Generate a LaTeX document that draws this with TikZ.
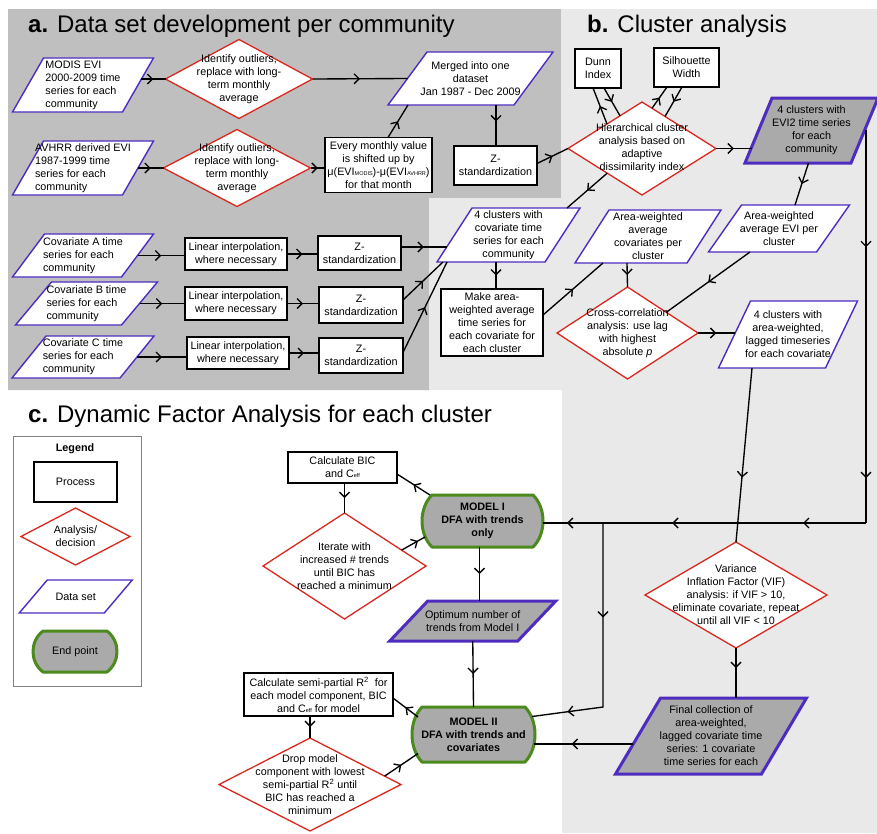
\documentclass[tikz,border=0pt]{standalone}
\usepackage{fontspec}
\setmainfont{Liberation Sans}
\usetikzlibrary{calc,arrows.meta,decorations.markings}
\definecolor{pgray}{RGB}{191,191,191}
\definecolor{lgray}{RGB}{233,233,233}
\definecolor{dpurple}{RGB}{78,44,192}
\definecolor{dred}{RGB}{218,40,30}
\definecolor{dgreen}{RGB}{76,138,30}
\definecolor{sgray}{RGB}{170,170,170}
\definecolor{lborder}{RGB}{130,130,130}
\newcommand{\smallsub}[1]{{\fontsize{5.5}{6}\selectfont #1}}
% parallelogram: style, name, center, mid width, height, slant, align, text
\newcommand{\pgram}[8]{%
  \path[#1] ($(#3)+(-#4/2+#6/2,-#5/2)$) -- ($(#3)+(#4/2+#6/2,-#5/2)$) -- ($(#3)+(#4/2-#6/2,#5/2)$) -- ($(#3)+(-#4/2-#6/2,#5/2)$) -- cycle;
  \node[txt, minimum width=#4, minimum height=#5, align=#7] (#2) at (#3) {#8};}
% diamond: style, name, center, width, height, text
\newcommand{\dmd}[6]{%
  \path[#1] ($(#3)+(0,-#5/2)$) -- ($(#3)+(#4/2,0)$) -- ($(#3)+(0,#5/2)$) -- ($(#3)+(-#4/2,0)$) -- cycle;
  \node[txt, minimum width=#4, minimum height=#5] (#2) at (#3) {#6};}
% terminal (end point): style, name, center, width, height, text
\newcommand{\termshape}[6]{%
  \path[#1] ($(#3)+(-#4/2+10,-#5/2)$) -- ($(#3)+(#4/2-10,-#5/2)$) .. controls ($(#3)+(#4/2+3.33,-#5/4)$) and ($(#3)+(#4/2+3.33,#5/4)$) .. ($(#3)+(#4/2-10,#5/2)$) -- ($(#3)+(-#4/2+10,#5/2)$) .. controls ($(#3)+(-#4/2-3.33,#5/4)$) and ($(#3)+(-#4/2-3.33,-#5/4)$) .. ($(#3)+(-#4/2+10,-#5/2)$) -- cycle;
  \node[txt, minimum width=#4, minimum height=#5] (#2) at (#3) {#6};}
\tikzset{
  txt/.style={inner sep=0pt, outer sep=0pt, align=center, font=\fontsize{10.8}{13}\selectfont, text=black},
  procbox/.style={txt, draw=black, line width=1.6pt, fill=white},
  dwhite/.style={draw=dpurple, line width=1.4pt, fill=white},
  dgray/.style={draw=dpurple, line width=3pt, fill=sgray},
  decis/.style={draw=dred, line width=1.3pt, fill=white},
  endst/.style={draw=dgreen, line width=3pt, fill=sgray, line join=round},
  conn/.style={draw=black, line width=1.35pt},
  midarr/.style={postaction={decorate, decoration={markings, mark=at position #1 with {\arrow{Straight Barb[length=5pt,width=10pt]}}}}},
  midarr/.default=0.5,
  title/.style={anchor=base west, inner sep=0pt, font=\fontsize{24}{28}\selectfont}
}
\begin{document}
\begin{tikzpicture}[x=1pt,y=-1pt]
\useasboundingbox (0,0) rectangle (877,833);
\fill[white] (0,0) rectangle (877,833);
% panels
\fill[pgray] (8,9) -- (561,9) -- (561,198) -- (429,198) -- (429,390) -- (8,390) -- cycle;
\fill[lgray] (561,9) -- (877,9) -- (877,833) -- (562,833) -- (562,390) -- (429,390) -- (429,198) -- (561,198) -- cycle;
% titles
\node[title] (ta) at (28,32) {\textbf{a.} Data set development per community};
\node[title] (tb) at (587,32) {\textbf{b.} Cluster analysis};
\node[title] (tc) at (28,422) {\textbf{c.} Dynamic Factor Analysis for each cluster};

% ---------- panel a
\pgram{dwhite}{modis}{83,85}{110}{54}{31}{left}{MODIS EVI\\2000-2009 time\\series for each\\community}
\dmd{decis}{d1}{239,79}{147}{79}{Identify outliers,\\replace with long-\\term monthly\\average}
\pgram{dwhite}{avhrr}{83,168}{110}{54}{31}{left}{AVHRR derived EVI\\1987-1999 time\\series for each\\community}
\dmd{decis}{d2}{237,168}{147}{77}{Identify outliers,\\replace with long-\\term monthly\\average}
\node[procbox, minimum width=107, minimum height=55] (every) at (378.5,165) {Every monthly value\\is shifted up by\\μ(EVI\smallsub{MODIS})-μ(EVI\smallsub{AVHRR})\\for that month};
\pgram{dwhite}{merged}{470.5,78.5}{126}{53}{39}{center}{Merged into one\\dataset\\Jan 1987 - Dec 2009}
\node[procbox, minimum width=83, minimum height=39] (zstd1) at (495.5,165.5) {Z-\\standardization};

\pgram{dwhite}{covA}{83,255.5}{109}{43}{32}{left}{Covariate A time\\series for each\\community}
\pgram{dwhite}{covB}{86.5,303.5}{106}{43}{36}{left}{Covariate B time\\series for each\\community}
\pgram{dwhite}{covC}{83,357}{108}{42}{34}{left}{Covariate C time\\series for each\\community}
\node[procbox, minimum width=102, minimum height=32] (linA) at (236,254) {Linear interpolation,\\where necessary};
\node[procbox, minimum width=102, minimum height=33] (linB) at (236,303.5) {Linear interpolation,\\where necessary};
\node[procbox, minimum width=102, minimum height=32] (linC) at (238,353) {Linear interpolation,\\where necessary};
\node[procbox, minimum width=83, minimum height=34] (zA) at (359.5,253) {Z-\\standardization};
\node[procbox, minimum width=84, minimum height=36] (zB) at (361,305) {Z-\\standardization};
\node[procbox, minimum width=84, minimum height=35] (zC) at (361,355.5) {Z-\\standardization};

% ---------- panel b
\node[procbox, minimum width=46, minimum height=39] (dunn) at (598,68.5) {Dunn\\Index};
\node[procbox, minimum width=65, minimum height=39] (silh) at (686.5,67.5) {Silhouette\\Width};
\dmd{decis}{hier}{642,148.5}{148}{93}{Hierarchical cluster\\analysis based on\\adaptive\\dissimilarity index}
\pgram{dgray}{evi2}{811.5,130.5}{106}{65}{27}{center}{4 clusters with\\EVI2 time series\\for each\\community}
\pgram{dwhite}{areaevi}{779,228.5}{108}{47}{33}{center}{Area-weighted\\average EVI per\\cluster}
\pgram{dwhite}{covcl}{508.5,235}{108}{54}{35}{center}{4 clusters with\\covariate time\\series for each\\community}
\node[procbox, minimum width=102, minimum height=67] (make) at (492,322.5) {Make area-\\weighted average\\time series for\\each covariate for\\each cluster};
\pgram{dwhite}{areacov}{648,236.5}{112}{53}{34}{center}{Area-weighted\\average\\covariates per\\cluster}
\dmd{decis}{cross}{627.5,333}{141}{92}{Cross-correlation\\analysis: use lag\\with highest\\absolute \textit{p}}
\pgram{dwhite}{lagged}{788,334.5}{107}{67}{32}{center}{4 clusters with\\area-weighted,\\lagged timeseries\\for each covariate}

% ---------- panel c
\node[draw=lborder, line width=1pt, fill=white, minimum width=128, minimum height=250, inner sep=0pt, outer sep=0pt] (legbox) at (77,561) {};
\node[txt, font=\fontsize{10.8}{13}\selectfont\bfseries] (legt) at (75,449) {Legend};
\node[procbox, minimum width=83, minimum height=40] (legp) at (75.5,482) {Process};
\dmd{decis}{legd}{75.5,536.5}{109}{57}{Analysis/\\decision}
\pgram{dwhite}{legs}{75.75,596.5}{85}{33}{28}{center}{Data set}
\termshape{endst}{lege}{75,651.5}{84}{41}{End point}

\node[procbox, minimum width=109, minimum height=31] (calcbic) at (342.5,467.5) {Calculate BIC\\and C\smallsub{eff}};
\dmd{decis}{iter}{344.5,566}{163}{106}{Iterate with\\increased \# trends\\until BIC has\\reached a minimum}
\termshape{endst}{m1}{482.5,521}{121}{52}{\textbf{MODEL I}\\\textbf{DFA with trends}\\\textbf{only}}
\pgram{dgray}{opt}{472.75,621}{128}{40}{38}{center}{Optimum number of\\trends from Model I}
\termshape{endst}{m2}{473.5,734.5}{123}{55}{\textbf{MODEL II}\\\textbf{DFA with trends and}\\\textbf{covariates}}
\node[procbox, minimum width=149, minimum height=43] (calcsp) at (318.5,694.5) {Calculate semi-partial R\textsuperscript{2}\ \ for\\each model component, BIC\\and C\smallsub{eff} for model};
\dmd{decis}{drop}{310,784.5}{182}{93}{Drop model\\component with lowest\\semi-partial R\textsuperscript{2} until\\BIC has reached a\\minimum}
\dmd{decis}{vif}{736,595}{182}{106}{Variance\\Inflation Factor (VIF)\\analysis: if VIF > 10,\\eliminate covariate, repeat\\until all VIF < 10}
\pgram{dgray}{fin}{711,736}{146}{76}{45}{center}{Final collection of\\area-weighted,\\lagged covariate time\\series: 1 covariate\\time series for each}

% ---------- connectors panel a
\draw[conn,midarr] ($(modis.east)+(3,-6)$) -- (d1.west);
\draw[conn,midarr] (d1.east) -- (merged.west);
\draw[conn,midarr] (avhrr.east) -- (d2.west);
\draw[conn,midarr] (d2.east) -- (d2.east -| every.west);
\draw[conn,midarr] ($(every.north)+(9.5,0)$) -- ($(merged.south)+(-62.5,0)$);
\draw[conn,midarr=0.4] ($(merged.south)+(25.5,0)$) -- ($(zstd1.north)+(0.5,0)$);
\draw[conn,midarr] ($(zstd1.east)+(0,-2)$) -- (hier.west);
\draw[conn,midarr] (covA.east) -- (covA.east -| linA.west);
\draw[conn,midarr] (covB.east) -- (covB.east -| linB.west);
\draw[conn,midarr] (covC.east) -- (covC.east -| linC.west);
\draw[conn,midarr] (linA.east) -- (linA.east -| zA.west);
\draw[conn,midarr] (linB.east) -- (linB.east -| zB.west);
\draw[conn,midarr] (linC.east) -- (linC.east -| zC.west);
\draw[conn,midarr] ($(zA.east)+(0,-6)$) -- ($(covcl.west)+(-8,12)$);
\draw[conn,midarr] ($(zB.east)+(0,-5)$) -- ($(covcl.south west)+(-11.5,0)$);
\draw[conn,midarr] ($(zC.east)+(0,-3)$) -- ($(covcl.south west)+(-7.5,0)$);

% ---------- connectors panel b
\draw[conn,midarr] ($(hier.center)+(-35,-24.5)$) -- ($(dunn.south)+(-5,0)$);
\draw[conn,midarr] ($(dunn.south)+(6,0)$) -- ($(hier.center)+(-22,-32.7)$);
\draw[conn,midarr] ($(hier.center)+(10,-40.2)$) -- ($(silh.south)+(-19.5,0)$);
\draw[conn,midarr] ($(silh.south)+(-4.5,0)$) -- ($(hier.center)+(23,-32)$);
\draw[conn,midarr] (hier.east) -- ($(evi2.west)+(-7,18)$);
\draw[conn,midarr] ($(evi2.south)+(-3,0)$) -- ($(areaevi.north)+(16,0)$);
\draw[conn,midarr] ($(areaevi.south)+(-29,0)$) -- ($(cross.north)!0.55!(cross.east)$);
\draw[conn,midarr] ($(hier.west)!0.53!(hier.south)$) -- ($(covcl.north)+(58.5,0)$);
\draw[conn,midarr] ($(covcl.south)+(-12.5,0)$) -- ($(make.north)+(4,0)$);
\draw[conn,midarr] ($(make.east)+(0,-7.5)$) -- ($(areacov.south)+(-45,0)$);
\draw[conn,midarr] ($(areacov.south)+(-21,0)$) -- (cross.north);
\draw[conn,midarr] (cross.east) -- (cross.east -| lagged.west);

% ---------- connectors panel c
\coordinate (r1) at (866,523);
\coordinate (br) at (603,523);
\draw[conn,midarr=0.3,midarr=0.886] (evi2.east) -| (r1);
\draw[conn,midarr=0.195,midarr=0.6,midarr=0.926] (r1) -- (r1 -| m1.east);
\draw[conn,midarr=0.37,midarr=0.86] (br) -- (br |- m2.north) -- ($(m2.east)+(-3,-18)$);
\draw[conn,midarr=0.63] ($(lagged.south)+(-36,0)$) -- (vif.north);
\draw[conn,midarr=0.4] (vif.south) -- ($(fin.north)+(25,0)$);
\draw[conn,midarr=0.62] ($(fin.west)+(-5,8)$) -- ($(m2.east)+(-1,9.5)$);
\draw[conn,midarr] ($(m1.north west)+(8,0)$) -- ($(calcbic.east)+(0,6.5)$);
\draw[conn,midarr] ($(calcbic.south)+(2,0)$) -- (iter.north);
\draw[conn,midarr=0.7] ($(iter.north)!0.7!(iter.east)$) -- ($(m1.west)+(3,16)$);
\draw[conn,midarr] ($(m1.south)+(-3,0)$) -- ($(opt.north)+(6.75,0)$);
\draw[conn,midarr] (opt.south) -- (m2.north);
\draw[conn,midarr] ($(m2.north west)+(6,10)$) -- ($(calcsp.east)+(0,3.5)$);
\draw[conn,midarr] ($(calcsp.south)+(-8.5,0)$) -- (drop.north);
\draw[conn,midarr] ($(drop.north)!0.82!(drop.east)$) -- ($(m2.west)+(6,19)$);
\end{tikzpicture}
\end{document}
